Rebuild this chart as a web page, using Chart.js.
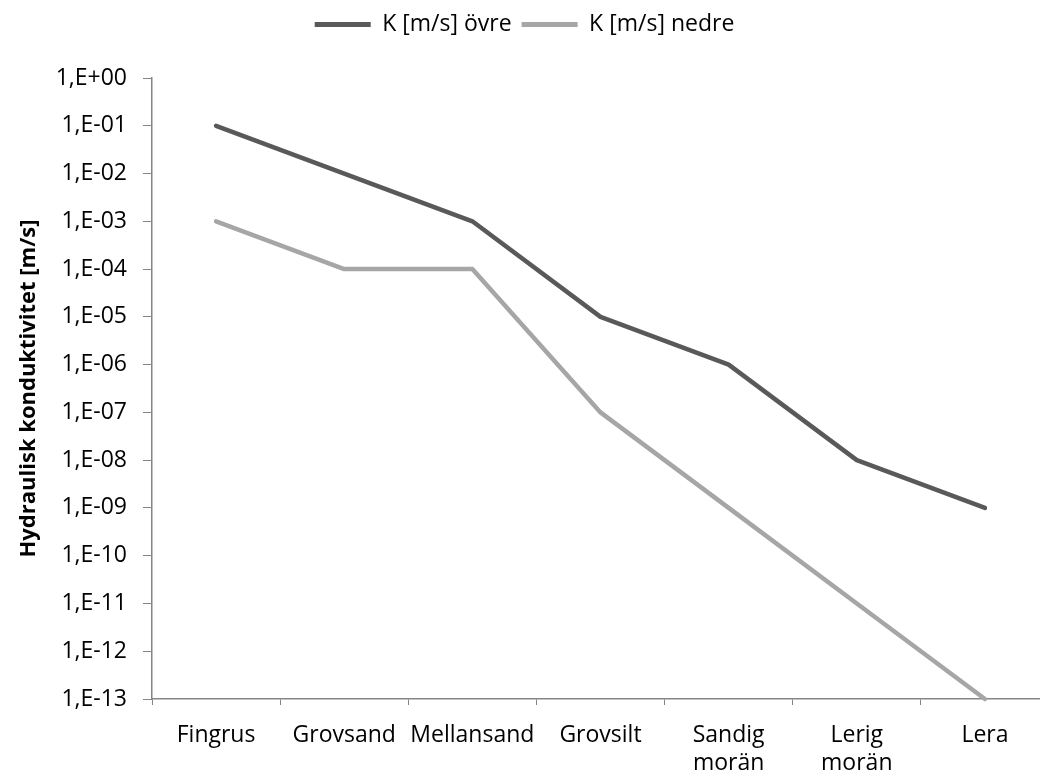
<!DOCTYPE html>
<html>
<head>
<meta charset="utf-8">
<script src="https://cdn.jsdelivr.net/npm/chart.js@4/dist/chart.umd.min.js"></script>
<style>
  html, body { margin: 0; padding: 0; overflow: hidden; background: #fff; }
  #wrap { width: 1058px; height: 774px; position: relative; }
</style>
</head>
<body>
<div id="wrap"><canvas id="c" width="1058" height="774"></canvas></div>
<script>
const categories = ['Fingrus', 'Grovsand', 'Mellansand', 'Grovsilt', ['Sandig', 'morän'], ['Lerig', 'morän'], 'Lera'];
const seriesNames = ['K [m/s] övre', 'K [m/s] nedre'];
const kOvre = [1e-1, 1e-2, 1e-3, 1e-5, 1e-6, 1e-8, 1e-9];
const kNedre = [1e-3, 1e-4, 1e-4, 1e-7, 1e-9, 1e-11, 1e-13];
const yExponents = [0, -1, -2, -3, -4, -5, -6, -7, -8, -9, -10, -11, -12, -13];
const yTitle = 'Hydraulisk konduktivitet [m/s]';

const FONT = 'Open Sans';
const FS = 23;
const axisColor = '#868686';

function fmt(v) {
  const e = Math.round(Math.log10(v));
  const sign = e < 0 ? '-' : '+';
  return '1,E' + sign + String(Math.abs(e)).padStart(2, '0');
}

const legendSpacer = {
  id: 'legendSpacer',
  beforeInit(chart) {
    const orig = chart.legend.fit;
    chart.legend.fit = function () { orig.call(this); this.height += 32; };
  }
};

new Chart(document.getElementById('c'), {
  type: 'line',
  plugins: [legendSpacer],
  data: {
    labels: categories,
    datasets: [
      { label: seriesNames[0], data: kOvre, borderColor: '#595959', backgroundColor: '#595959',
        borderWidth: 4.5, pointRadius: 0, pointHoverRadius: 0, tension: 0, clip: false,
        borderCapStyle: 'round', borderJoinStyle: 'round' },
      { label: seriesNames[1], data: kNedre, borderColor: '#A6A6A6', backgroundColor: '#A6A6A6',
        borderWidth: 4.5, pointRadius: 0, pointHoverRadius: 0, tension: 0, clip: false,
        borderCapStyle: 'round', borderJoinStyle: 'round' }
    ]
  },
  options: {
    responsive: false,
    animation: false,
    events: [],
    layout: { padding: { left: 0, right: 9, top: 3, bottom: 0 } },
    plugins: {
      tooltip: { enabled: false },
      legend: {
        position: 'top',
        labels: {
          color: '#000',
          font: { family: FONT, size: FS },
          boxWidth: 56,
          boxHeight: 5,
          padding: 10,
          generateLabels: (chart) => chart.data.datasets.map((d, i) => ({
            text: d.label, fillStyle: d.borderColor, strokeStyle: d.borderColor,
            lineWidth: 0, datasetIndex: i, hidden: false
          }))
        }
      }
    },
    scales: {
      x: {
        type: 'category',
        offset: true,
        grid: { offset: true, drawOnChartArea: false, tickLength: 6, color: axisColor, tickColor: axisColor },
        border: { color: axisColor, width: 1.5 },
        ticks: { color: '#000', font: { family: FONT, size: FS, lineHeight: 1.2 }, padding: 17, maxRotation: 0, autoSkip: false },
        afterFit: (s) => { s.height = 75; }
      },
      y: {
        type: 'logarithmic',
        min: 1e-13,
        max: 1,
        grid: { drawOnChartArea: false, tickLength: 9, color: axisColor, tickColor: axisColor },
        border: { color: axisColor, width: 1.5 },
        afterBuildTicks: (s) => { s.ticks = yExponents.map(e => ({ value: Math.pow(10, e) })); },
        ticks: { color: '#000', font: { family: FONT, size: FS }, padding: 16, callback: (v) => fmt(v) },
        title: { display: true, text: yTitle, color: '#000', font: { family: FONT, size: 22, weight: 'bold' }, padding: { top: 16, bottom: 0 } },
        afterFit: (s) => { s.width = 152; }
      }
    }
  }
});
</script>
</body>
</html>
